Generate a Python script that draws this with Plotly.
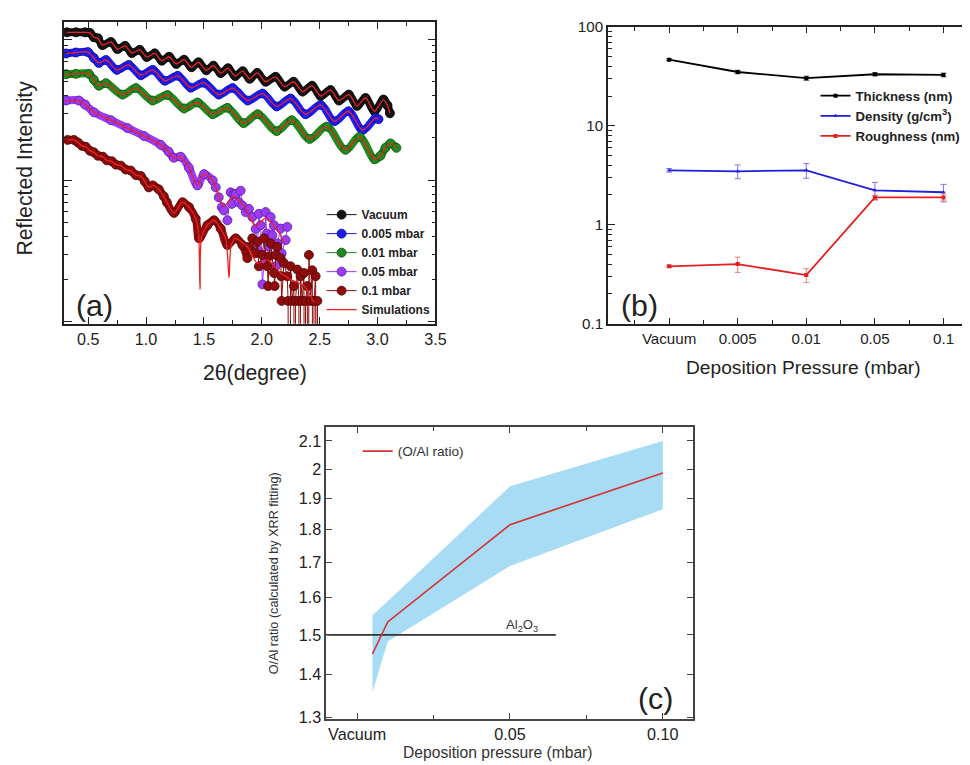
import plotly.graph_objects as go

# ---------------- Panel (a): XRR curves (2theta in degree, log10 reflected intensity, arb. units) -------------
vac_2t = [0.316, 0.394, 0.472, 0.515, 0.549, 0.584, 0.623, 0.696, 0.752, 0.819, 0.877, 0.946, 1.006, 1.075,
          1.136, 1.199, 1.261, 1.328, 1.392, 1.453, 1.520, 1.582, 1.645, 1.708, 1.770, 1.835, 1.895, 1.960,
          2.033, 2.119, 2.197, 2.275, 2.352, 2.434, 2.508, 2.594, 2.667, 2.752, 2.823, 2.896, 2.974, 3.051,
          3.086, 3.107]
vac_logI = [0.049, 0.049, 0.049, 0.045, 0.014, 0.007, -0.042, -0.019, -0.070, -0.047, -0.098, -0.075, -0.126,
            -0.100, -0.152, -0.124, -0.175, -0.145, -0.198, -0.163, -0.220, -0.187, -0.240, -0.205, -0.261,
            -0.226, -0.280, -0.238, -0.301, -0.266, -0.336, -0.301, -0.371, -0.329, -0.402, -0.360, -0.434,
            -0.392, -0.472, -0.416, -0.510, -0.427, -0.469, -0.524]

p005_2t = [0.308, 0.394, 0.497, 0.549, 0.592, 0.653, 0.748, 0.851, 0.955, 1.058, 1.162, 1.274, 1.386, 1.498,
           1.628, 1.748, 1.878, 2.007, 2.128, 2.249, 2.378, 2.508, 2.628, 2.749, 2.870, 2.982, 3.008]
p005_logI = [-0.101, -0.094, -0.091, -0.133, -0.168, -0.147, -0.217, -0.182, -0.255, -0.217, -0.294, -0.259,
             -0.343, -0.308, -0.392, -0.346, -0.434, -0.385, -0.476, -0.420, -0.531, -0.465, -0.580, -0.510,
             -0.643, -0.559, -0.566]

p01_2t = [0.308, 0.394, 0.506, 0.549, 0.592, 0.653, 0.797, 0.912, 1.056, 1.185, 1.328, 1.444, 1.576, 1.703,
          1.843, 1.964, 2.128, 2.258, 2.413, 2.560, 2.723, 2.844, 2.974, 3.025, 3.068, 3.112, 3.163]
p01_logI = [-0.248, -0.245, -0.245, -0.287, -0.329, -0.311, -0.392, -0.346, -0.434, -0.395, -0.490, -0.448,
            -0.531, -0.486, -0.594, -0.531, -0.650, -0.573, -0.706, -0.619, -0.783, -0.692, -0.850, -0.825,
            -0.769, -0.738, -0.769]

# 0.05 mbar: smooth part, noisy tail, and simulation tail
p05_2t = [0.308, 0.420, 0.472, 0.549, 0.696, 0.840, 0.983, 1.127, 1.196, 1.239, 1.300, 1.369, 1.444, 1.501, 1.576]
p05_logI = [-0.434, -0.434, -0.462, -0.517, -0.573, -0.629, -0.685, -0.748, -0.797, -0.839, -0.832, -0.909,
            -1.035, -0.955, -1.000]
p05_noise_2t = [1.602, 1.628, 1.654, 1.673, 1.703, 1.731, 1.740, 1.757, 1.774, 1.800, 1.817, 1.832, 1.861,
                1.889, 1.918, 1.947, 1.962, 1.975, 1.990, 2.005, 2.019, 2.033, 2.042, 2.062, 2.076, 2.091,
                2.105, 2.120, 2.134, 2.163, 2.171, 2.206, 2.220]
p05_noise_logI = [-1.049, -1.119, -1.189, -1.212, -1.282, -1.084, -1.166, -1.098, -1.096, -1.154, -1.072,
                  -1.177, -1.224, -1.201, -1.259, -1.343, -1.492, -1.236, -1.317, -1.736, -1.585, -1.224,
                  -1.376, -1.469, -1.259, -1.387, -1.317, -1.608, -1.445, -1.341, -1.515, -1.422, -1.329]
p05_simtail_2t = [1.671, 1.757, 1.852, 1.947, 2.033, 2.128, 2.197]
p05_simtail_logI = [-1.182, -1.112, -1.189, -1.322, -1.266, -1.343, -1.441]

# 0.1 mbar
p1_2t = [0.322, 0.377, 0.411, 0.446, 0.480, 0.515, 0.549, 0.584, 0.627, 0.661, 0.704, 0.739, 0.782, 0.825,
         0.868, 0.912, 0.955, 0.989, 1.024, 1.058, 1.110, 1.153, 1.179, 1.242, 1.315, 1.371, 1.429, 1.458,
         1.530, 1.587, 1.645, 1.703, 1.774, 1.832, 1.875]
p1_logI = [-0.713, -0.713, -0.731, -0.755, -0.762, -0.790, -0.801, -0.825, -0.832, -0.857, -0.864, -0.888,
           -0.895, -0.923, -0.930, -0.962, -0.969, -1.007, -1.049, -1.035, -1.063, -1.112, -1.154, -1.230,
           -1.154, -1.189, -1.271, -1.410, -1.317, -1.282, -1.341, -1.457, -1.410, -1.457, -1.550]
p1_noise_2t = [1.889, 1.918, 1.947, 1.962, 1.975, 2.005, 2.019, 2.048, 2.055, 2.062, 2.076, 2.105, 2.111,
               2.120, 2.134, 2.163, 2.167, 2.171, 2.191, 2.220, 2.227, 2.236, 2.249, 2.263, 2.277, 2.284,
               2.292, 2.307, 2.320, 2.327, 2.335, 2.349, 2.364, 2.370, 2.378, 2.393, 2.400, 2.407, 2.422,
               2.436, 2.443, 2.451, 2.465, 2.472, 2.480, 2.490]
p1_noise_logI = [-1.469, -1.410, -1.515, -1.434, -1.608, -1.527, -1.410, -1.608, -1.748, -1.538, -1.445,
                 -1.655, -1.748, -1.527, -1.469, -1.550, -1.678, -1.853, -1.585, -1.678, -1.853, -4.0,
                 -1.608, -1.853, -1.748, -4.0, -1.853, -1.631, -1.853, -4.0, -1.678, -1.853, -1.655, -4.0,
                 -1.853, -1.748, -4.0, -1.527, -1.853, -1.636, -4.0, -1.853, -1.678, -4.0, -1.853, -4.0]
p1_simtail_2t = [1.452, 1.466, 1.480, 1.530, 1.587, 1.645, 1.690, 1.717, 1.735, 1.774, 1.832, 1.875, 1.962,
                 2.048, 2.163, 2.249, 2.364, 2.450]
p1_simtail_logI = [-1.36, -1.771, -1.40, -1.317, -1.282, -1.341, -1.42, -1.690, -1.46, -1.410, -1.440,
                   -1.469, -1.585, -1.562, -1.655, -1.701, -1.748, -1.865]

series_names = ["Vacuum", "0.005 mbar", "0.01 mbar", "0.05 mbar", "0.1 mbar"]
series_colors = ["#141414", "#1c1cf0", "#1f8a1f", "#9a3cf5", "#8e0c0c"]
series_edge = ["#000000", "#0a0a90", "#0d520d", "#5a1aa0", "#500505"]
sim_color = "#ee2222"

# ---------------- Panel (b) ----------------
pressures = ["Vacuum", "0.005", "0.01", "0.05", "0.1"]
thickness = [46.6, 35.0, 30.3, 33.2, 32.7]
thickness_err = [1.0, 1.5, 1.5, 1.2, 1.5]
density = [3.55, 3.47, 3.55, 2.23, 2.13]
density_err = [0.15, 0.55, 0.60, 0.45, 0.43]
roughness = [0.38, 0.40, 0.31, 1.89, 1.89]
roughness_err = [0.01, 0.07, 0.05, 0.10, 0.15]

# ---------------- Panel (c) ----------------
oal_pressure = [0.005, 0.01, 0.05, 0.10]
oal_ratio = [1.451, 1.534, 1.816, 1.986]
oal_upper = [1.552, 1.590, 1.941, 2.100]
oal_lower = [1.357, 1.483, 1.690, 1.865]
al2o3_ratio = 1.5
al2o3_line_end = 0.065
c_xticks = [0, 0.05, 0.10]
c_xticktext = ["Vacuum", "0.05", "0.10"]
c_yticks = [1.3, 1.4, 1.5, 1.6, 1.7, 1.8, 1.9, 2.0, 2.1]
c_yticktext = ["1.3", "1.4", "1.5", "1.6", "1.7", "1.8", "1.9", "2", "2.1"]

W, H = 970, 765
FONT = "Arial, 'Liberation Sans', sans-serif"
# the photographed page is offset by the page margin and slightly shrunk:
# picture = offset + scale * layout.  Positions below are given in picture pixels.
OX, OY, SC = 7.0, 7.5, 0.99
FS = 1.01  # font compensation


def pw(px):
    return min(1.0, max(0.0, (px - OX) / SC / W))


def ph(py):
    return min(1.0, max(0.0, 1 - (py - OY) / SC / H))


def lw(lx):
    return lx / W


def lh(ly):
    return 1 - ly / H


def exp10(vals):
    return [10 ** v for v in vals]


fig = go.Figure()

# ---- panel (a) traces
smooth = [(vac_2t, vac_logI), (p005_2t, p005_logI), (p01_2t, p01_logI), (p05_2t, p05_logI), (p1_2t, p1_logI)]
data_full = [
    (vac_2t, vac_logI), (p005_2t, p005_logI), (p01_2t, p01_logI),
    (p05_2t + p05_noise_2t, p05_logI + p05_noise_logI),
    (p1_2t + p1_noise_2t, p1_logI + p1_noise_logI),
]
sims = [
    (vac_2t, vac_logI), (p005_2t, p005_logI), (p01_2t, p01_logI),
    (p05_2t + p05_simtail_2t, p05_logI + p05_simtail_logI),
    (p1_2t[:27] + p1_simtail_2t, p1_logI[:27] + p1_simtail_logI),
]

for i in range(5):
    sx, sy = smooth[i]
    fig.add_trace(go.Scatter(x=sx, y=exp10(sy), mode="lines", xaxis="x", yaxis="y",
                             line=dict(color=series_colors[i], width=8, shape="spline", smoothing=1.0),
                             showlegend=False, hoverinfo="skip"))
    dx, dy = data_full[i]
    fig.add_trace(go.Scatter(x=dx, y=exp10(dy), mode="lines+markers", xaxis="x", yaxis="y",
                             name=series_names[i], legend="legend",
                             line=dict(color=series_colors[i], width=1),
                             marker=dict(size=9, color=series_colors[i],
                                         line=dict(color=series_edge[i], width=0.8))))
for i in range(5):
    mx, my = sims[i]
    fig.add_trace(go.Scatter(x=mx, y=exp10(my), mode="lines", xaxis="x", yaxis="y",
                             name="Simulations", legend="legend",
                             showlegend=(i == 4),
                             line=dict(color=sim_color, width=1.3, shape="spline", smoothing=0.8)))

# ---- panel (b) traces
xb = list(range(len(pressures)))
b_specs = [
    ("Thickness (nm)", thickness, thickness_err, "#000000", "#777777", "square"),
    ("Density (g/cm<sup>3</sup>)", density, density_err, "#1e1edc", "#7a7af0", "triangle-up"),
    ("Roughness (nm)", roughness, roughness_err, "#e32020", "#f08080", "square"),
]
for name, vals, errs, col, ecol, sym in b_specs:
    fig.add_trace(go.Scatter(x=xb, y=vals, mode="lines+markers", xaxis="x2", yaxis="y2",
                             name=name, legend="legend2",
                             line=dict(color=col, width=1.8),
                             marker=dict(size=4, color=col, symbol=sym),
                             error_y=dict(type="data", array=errs, color=ecol, thickness=1, width=3)))

# ---- panel (c) traces
fig.add_trace(go.Scatter(x=oal_pressure, y=oal_upper, mode="lines", xaxis="x3", yaxis="y3",
                         line=dict(width=0, color="#a8dcf4"), showlegend=False, hoverinfo="skip"))
fig.add_trace(go.Scatter(x=oal_pressure, y=oal_lower, mode="lines", xaxis="x3", yaxis="y3",
                         fill="tonexty", fillcolor="#a8dcf4",
                         line=dict(width=0, color="#a8dcf4"), showlegend=False, hoverinfo="skip"))
c_xrange = [-0.0101, 0.1099]
fig.add_trace(go.Scatter(x=[c_xrange[0], al2o3_line_end], y=[al2o3_ratio, al2o3_ratio], mode="lines",
                         xaxis="x3", yaxis="y3", line=dict(color="#333333", width=1.6),
                         showlegend=False, hoverinfo="skip"))
fig.add_trace(go.Scatter(x=oal_pressure, y=oal_ratio, mode="lines", xaxis="x3", yaxis="y3",
                         name="(O/Al ratio)", legend="legend3",
                         line=dict(color="#d63030", width=1.6)))

# ---- axes
base = dict(showline=True, linecolor="#222222", linewidth=1.5, ticks="inside", tickcolor="#222222",
            tickwidth=1.2, showgrid=False, zeroline=False,
            tickfont=dict(family=FONT, size=16 * FS, color="#222222"))
minor_log = dict(ticks="inside", ticklen=4, tickcolor="#222222", dtick="D1")

fig.update_layout(
    width=W, height=H, margin=dict(l=0, r=0, t=0, b=0),
    paper_bgcolor="white", plot_bgcolor="white",
    font=dict(family=FONT, color="#222222"),
    xaxis=dict(base, domain=[pw(63), pw(435)], anchor="y", range=[0.2903, 3.5], dtick=0.5, tick0=0,
               tickformat=".1f", ticklen=7, mirror="ticks",
               minor=dict(dtick=0.25, tick0=0, ticks="inside", ticklen=4, tickcolor="#222222")),
    yaxis=dict(base, domain=[ph(318), ph(13)], anchor="x", type="log", range=[-2.014, 0.119], dtick=1,
               showticklabels=False, ticklen=8, mirror="ticks", minor=minor_log),
    xaxis2=dict(base, domain=[pw(607.7), 1.0], anchor="y2", range=[-0.892, 4.342],
                tickmode="array", tickvals=xb, ticktext=pressures, ticklen=6, mirror="ticks",
                tickfont=dict(family=FONT, size=15 * FS, color="#222222"),
                minor=dict(dtick=0.5, tick0=0, ticks="inside", ticklen=4, tickcolor="#222222")),
    yaxis2=dict(base, domain=[ph(318), ph(17.5)], anchor="x2", type="log", range=[-1, 2], dtick=1,
                ticklen=7, tickfont=dict(family=FONT, size=15 * FS, color="#222222"), minor=minor_log),
    xaxis3=dict(base, domain=[pw(325.7), pw(693)], anchor="y3", range=c_xrange,
                tickmode="array", tickvals=c_xticks, ticktext=c_xticktext, ticklen=6, mirror="ticks",
                linecolor="#444444", tickcolor="#444444",
                minor=dict(dtick=0.025, tick0=0, ticks="inside", ticklen=4, tickcolor="#444444")),
    yaxis3=dict(base, domain=[ph(718), ph(423)], anchor="x3", type="log",
                range=[0.1129, 0.3324], tickmode="array", tickvals=c_yticks, ticktext=c_yticktext,
                ticklen=6, mirror="ticks", linecolor="#444444", tickcolor="#444444"),
    legend=dict(x=lw(317.2), y=lh(187.3), xanchor="left", yanchor="top", bgcolor="rgba(0,0,0,0)",
                traceorder="normal", font=dict(family=FONT, size=12, color="#222222", weight="bold"),
                tracegroupgap=0, itemwidth=30),
    legend2=dict(x=lw(816.8), y=lh(65.0), xanchor="left", yanchor="top", bgcolor="rgba(0,0,0,0)",
                 traceorder="normal", font=dict(family=FONT, size=13.2, color="#222222", weight="bold"),
                 itemwidth=30),
    legend3=dict(x=lw(353.7), y=lh(428.3), xanchor="left", yanchor="top", bgcolor="rgba(0,0,0,0)",
                 font=dict(family=FONT, size=13.5 * FS, color="#333333"), itemwidth=30),
)

ann = [
    dict(text="(a)", x=pw(94), y=ph(300), font=dict(size=30)),
    dict(text="(b)", x=pw(639), y=ph(300), font=dict(size=30)),
    dict(text="(c)", x=pw(655), y=ph(698), font=dict(size=30)),
    dict(text="Reflected Intensity", x=pw(24), y=ph(160), textangle=-90, font=dict(size=21)),
    dict(text="2θ(degree)", x=pw(254), y=ph(368), font=dict(size=21)),
    dict(text="Deposition Pressure (mbar)", x=pw(804), y=ph(362), font=dict(size=19)),
    dict(text="O/Al ratio (calculated by XRR fitting)", x=pw(273), y=ph(571), textangle=-90,
         font=dict(size=12.5, color="#333333")),
    dict(text="Deposition pressure (mbar)", x=pw(498), y=ph(752), font=dict(size=15.5, color="#333333")),
    dict(text="Al<sub>2</sub>O<sub>3</sub>", x=pw(522), y=ph(624), font=dict(size=13, color="#333333")),
]
for a in ann:
    a.update(xref="paper", yref="paper", showarrow=False, xanchor="center", yanchor="middle")
    a["font"] = dict(family=FONT, color=a["font"].get("color", "#222222"), size=a["font"]["size"] * FS)
    fig.add_annotation(**a)

fig.write_html("out.html", config={"displayModeBar": False})
